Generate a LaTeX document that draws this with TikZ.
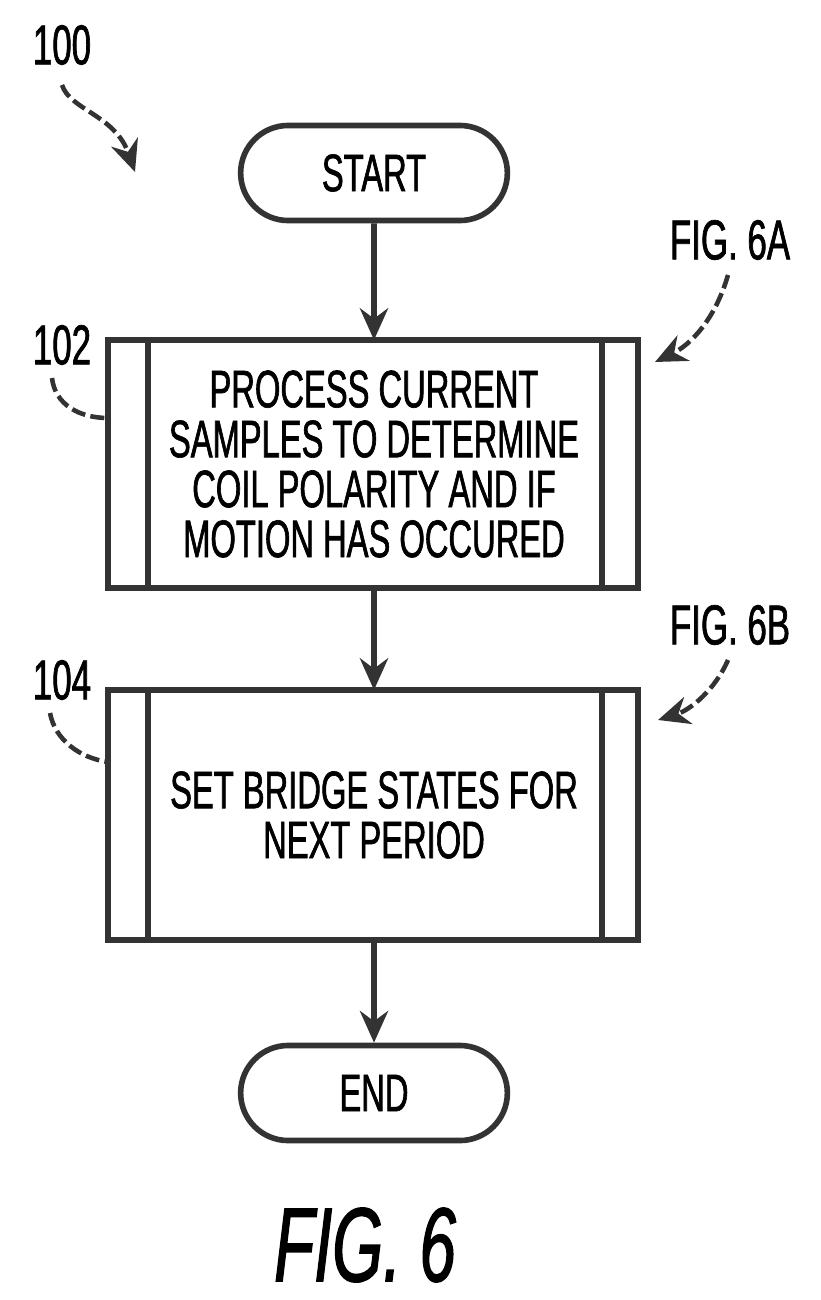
\documentclass[tikz,border=0pt]{standalone}
\usepackage{fontspec}
\setmainfont{Liberation Sans}[FakeStretch=0.62,FakeBold=1.2]
\usetikzlibrary{arrows.meta,shapes.misc}
\begin{document}
\begin{tikzpicture}[x=0.01cm,y=-0.01cm,
  ln/.style={draw=black!80,line width=1.6pt},
  arr/.style={ln,-{Stealth[length=9pt,width=8pt]}},
  lead/.style={draw=black!80,line width=1.3pt,dashed,dash pattern=on 4pt off 1.5pt},
  term/.style={rounded rectangle,ln,minimum width=2.9cm,minimum height=0.95cm,font=\fontsize{15}{14}\selectfont},
  txt/.style={font=\fontsize{15}{14.2}\selectfont,align=center},
  lab/.style={font=\fontsize{16}{14}\selectfont}]
\useasboundingbox (0,0) rectangle (820,1300);
\node[term] (start) at (374,173) {START};
\node[term] (end) at (374,1093) {END};
\draw[ln] (108,340) rectangle (638,588);
\draw[ln] (148,340) -- (148,588) (602,340) -- (602,588);
\node[txt] (p) at (374,464) {PROCESS CURRENT\\SAMPLES TO DETERMINE\\COIL POLARITY AND IF\\MOTION HAS OCCURED};
\draw[ln] (108,690) rectangle (638,940);
\draw[ln] (148,690) -- (148,940) (602,690) -- (602,940);
\node[txt] (s) at (374,815) {SET BRIDGE STATES FOR\\NEXT PERIOD};
\coordinate (b1t) at (374,340); \coordinate (b1b) at (374,588);
\coordinate (b2t) at (374,690); \coordinate (b2b) at (374,940);
\draw[arr] (start) -- (b1t);
\draw[arr] (b1b) -- (b2t);
\draw[arr] (b2b) -- (end);
\node[lab] (l100) at (62,45) {100};
\coordinate (a100s) at (62,85); \coordinate (a100e) at (135,172);
\draw[lead,-{Stealth[length=9pt,width=8pt]}] (a100s) .. controls (70,110) and (115,115) .. (a100e);
\node[lab] (f6a) at (730,240) {FIG. 6A};
\coordinate (a6as) at (728,275); \coordinate (a6ae) at (655,362);
\draw[lead,-{Stealth[length=9pt,width=8pt]}] (a6as) .. controls (715,320) and (690,345) .. (a6ae);
\node[lab] (f6b) at (730,625) {FIG. 6B};
\coordinate (a6bs) at (728,660); \coordinate (a6be) at (658,720);
\draw[lead,-{Stealth[length=9pt,width=8pt]}] (a6bs) .. controls (715,690) and (690,710) .. (a6be);
\node[lab] (l102) at (62,345) {102};
\coordinate (c102) at (108,418);
\draw[lead] (52,378) .. controls (55,405) and (80,418) .. (c102);
\node[lab] (l104) at (62,680) {104};
\coordinate (c104) at (108,762);
\draw[lead] (50,713) .. controls (55,740) and (80,758) .. (c104);
\node[font=\fontsize{30}{30}\itshape\selectfont] (fig) at (365,1245) {FIG. 6};
\end{tikzpicture}
\end{document}
